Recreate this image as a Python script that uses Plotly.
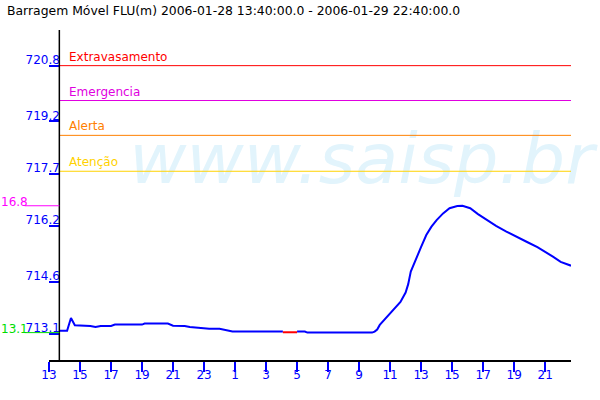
import plotly.graph_objects as go

title_text = "Barragem Móvel FLU(m) 2006-01-28 13:40:00.0 - 2006-01-29 22:40:00.0"

times = [
    "2006-01-28 13:40", "2006-01-28 14:10", "2006-01-28 14:25", "2006-01-28 14:40",
    "2006-01-28 15:40", "2006-01-28 16:00", "2006-01-28 16:20", "2006-01-28 17:00",
    "2006-01-28 17:15", "2006-01-28 19:00", "2006-01-28 19:10", "2006-01-28 20:40",
    "2006-01-28 21:00", "2006-01-28 21:45", "2006-01-28 22:05", "2006-01-28 22:40",
    "2006-01-28 23:20", "2006-01-29 00:00", "2006-01-29 00:20", "2006-01-29 00:50",
    "2006-01-29 04:05", None, "2006-01-29 05:00", "2006-01-29 05:30",
    "2006-01-29 05:40", "2006-01-29 09:50", "2006-01-29 10:00", "2006-01-29 10:10",
    "2006-01-29 10:20", "2006-01-29 10:40", "2006-01-29 11:00", "2006-01-29 11:20",
    "2006-01-29 11:40", "2006-01-29 12:00", "2006-01-29 12:10", "2006-01-29 12:20",
    "2006-01-29 12:40", "2006-01-29 13:00", "2006-01-29 13:20", "2006-01-29 13:40",
    "2006-01-29 14:00", "2006-01-29 14:25", "2006-01-29 14:50", "2006-01-29 15:20",
    "2006-01-29 15:40", "2006-01-29 16:10", "2006-01-29 16:40", "2006-01-29 17:10",
    "2006-01-29 17:50", "2006-01-29 18:30", "2006-01-29 19:10", "2006-01-29 19:50",
    "2006-01-29 20:30", "2006-01-29 21:05", "2006-01-29 21:30", "2006-01-29 22:00",
    "2006-01-29 22:40",
]
levels = [
    713.19, 713.19, 713.56, 713.35,
    713.33, 713.30, 713.33, 713.33,
    713.37, 713.37, 713.40, 713.40,
    713.34, 713.33, 713.30, 713.28,
    713.25, 713.25, 713.21, 713.17,
    713.17, None, 713.17, 713.17,
    713.14, 713.14, 713.17, 713.23,
    713.36, 713.52, 713.69, 713.84,
    714.02, 714.29, 714.53, 714.89,
    715.27, 715.60, 715.94, 716.18,
    716.37, 716.56, 716.71, 716.77,
    716.78, 716.71, 716.54, 716.40,
    716.20, 716.04, 715.88, 715.74,
    715.59, 715.44, 715.32, 715.17,
    715.06,
]

gap_times = ["2006-01-29 04:05", "2006-01-29 05:00"]
gap_levels = [713.15, 713.15]

limit_names = ["Extravasamento", "Emergencia", "Alerta", "Atenção"]
limit_values = [720.8, 719.8, 718.8, 717.77]
limit_colors = ["#ff0000", "#e000e0", "#ff8000", "#ffd200"]

ytick_vals = [713.1, 714.6, 716.2, 717.7, 719.2, 720.8]
ytick_text = ["713.1", "714.6", "716.2", "717.7", "719.2", "720.8"]

max_label, max_value = "16.8", 716.78
min_label, min_value = "13.1", 713.14

x_start, x_end = "2006-01-28 13:00", "2006-01-29 22:40"
first_time = "2006-01-28 13:40"

FONT = "DejaVu Sans"
BLUE = "#0000ff"

fig = go.Figure()

# watermark (behind everything)
fig.add_trace(go.Scatter(
    x=["2006-01-29 09:10"], y=[717.93], mode="text",
    text=["<i>www.saisp.br</i>"], textposition="middle center",
    textfont=dict(family=FONT, size=70, color="#e2f4fc"),
    cliponaxis=False, hoverinfo="skip", showlegend=False,
))

fig.add_trace(go.Scatter(
    x=times, y=levels, mode="lines", connectgaps=False,
    line=dict(color=BLUE, width=2), showlegend=False,
))
fig.add_trace(go.Scatter(
    x=gap_times, y=gap_levels, mode="lines",
    line=dict(color="#ff0000", width=2), showlegend=False,
))

# limit lines and labels
for name, val, col in zip(limit_names, limit_values, limit_colors):
    fig.add_shape(type="line", xref="x", yref="y", x0=first_time, x1=x_end,
                  y0=val, y1=val, line=dict(color=col, width=1))
    fig.add_annotation(x=first_time, y=val, xref="x", yref="y", text=name,
                       showarrow=False, xanchor="left", yanchor="bottom",
                       xshift=8, yshift=0, font=dict(family=FONT, size=12, color=col))

# y-axis line at first data time
fig.add_shape(type="line", xref="x", yref="paper", x0=first_time, x1=first_time,
              y0=0, y1=1, line=dict(color="black", width=1.5))

# max/min markers to the left of the axis
for lab, val, col in [(max_label, max_value, "#ff00ff"), (min_label, min_value, "#00dd00")]:
    fig.add_shape(type="line", xref="paper", yref="y", x0=-0.0466, x1=0.0198,
                  y0=val, y1=val, line=dict(color=col, width=1))
    fig.add_annotation(x=-49 / 522, y=val, xref="paper", yref="y", text=lab,
                       showarrow=False, xanchor="left", yanchor="bottom",
                       xshift=-1, yshift=-5, font=dict(family=FONT, size=12, color=col))

# title
fig.add_annotation(x=-44 / 522, y=1 + 19 / 330, xref="paper", yref="paper",
                   text=title_text, showarrow=False, xanchor="left", yanchor="middle",
                   font=dict(family=FONT, size=12.4, color="black"))

fig.update_layout(
    width=600, height=400,
    margin=dict(l=49, r=29, t=30, b=40),
    paper_bgcolor="white", plot_bgcolor="white",
    font=dict(family=FONT, size=12),
    showlegend=False,
)

fig.update_xaxes(
    range=[x_start, x_end], type="date", automargin=False,
    tick0="2006-01-28 13:00", dtick=2 * 3600 * 1000, tickformat="%-H",
    showgrid=False, zeroline=False,
    showline=True, linecolor="black", linewidth=1.5,
    ticks="outside", ticklen=10, tickcolor=BLUE, tickwidth=1.5,
    tickfont=dict(family=FONT, size=12, color=BLUE),
    ticklabelstandoff=-7,
)

fig.update_yaxes(
    range=[712.354, 721.823], anchor="free", position=0.0198, automargin=False,
    tickmode="array", tickvals=ytick_vals, ticktext=ytick_text,
    showgrid=False, zeroline=False, showline=False,
    ticks="outside", ticklen=10, tickcolor=BLUE, tickwidth=1.5,
    tickfont=dict(family=FONT, size=12, color=BLUE),
    ticklabelstandoff=-13, ticklabelshift=-6,
)

fig.write_html(
    "out.html",
    config={"displayModeBar": False},
    post_script="document.body.style.margin='0';document.body.style.padding='0';",
)
